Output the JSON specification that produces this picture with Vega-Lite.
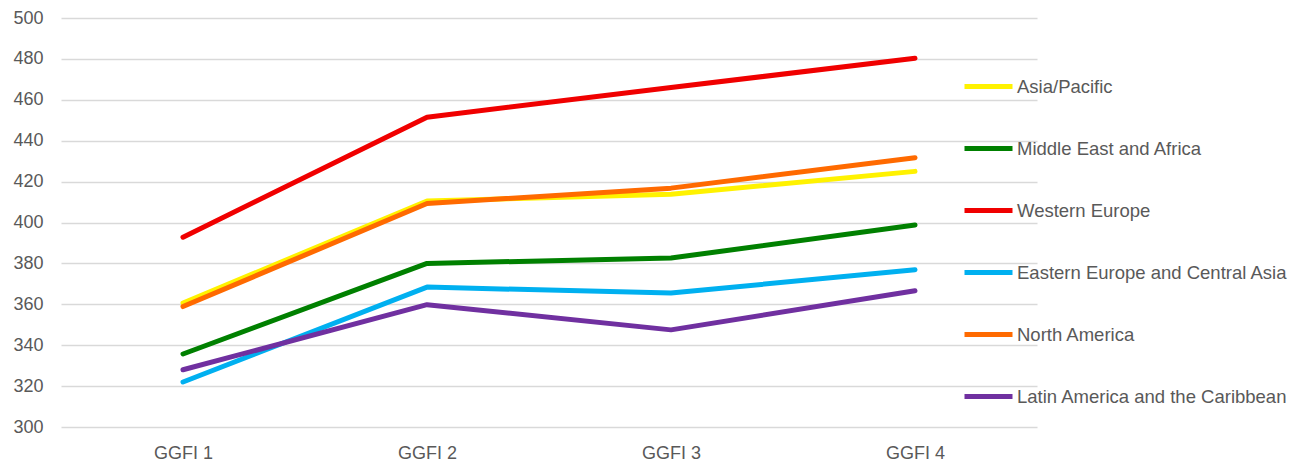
{
  "$schema": "https://vega.github.io/schema/vega-lite/v6.json",
  "width": 976,
  "height": 409,
  "autosize": "none",
  "padding": {"left": 61, "top": 18, "right": 276, "bottom": 38},
  "background": "white",
  "config": {
    "view": {"stroke": null},
    "font": "Liberation Sans"
  },
  "data": {
    "values": [
      {"series": "Asia/Pacific", "index": "GGFI 1", "value": 360.6},
      {"series": "Asia/Pacific", "index": "GGFI 2", "value": 410.5},
      {"series": "Asia/Pacific", "index": "GGFI 3", "value": 413.8},
      {"series": "Asia/Pacific", "index": "GGFI 4", "value": 425.0},
      {"series": "Middle East and Africa", "index": "GGFI 1", "value": 335.7},
      {"series": "Middle East and Africa", "index": "GGFI 2", "value": 380.0},
      {"series": "Middle East and Africa", "index": "GGFI 3", "value": 382.6},
      {"series": "Middle East and Africa", "index": "GGFI 4", "value": 398.8},
      {"series": "Western Europe", "index": "GGFI 1", "value": 392.8},
      {"series": "Western Europe", "index": "GGFI 2", "value": 451.5},
      {"series": "Western Europe", "index": "GGFI 3", "value": 466.0},
      {"series": "Western Europe", "index": "GGFI 4", "value": 480.3},
      {"series": "Eastern Europe and Central Asia", "index": "GGFI 1", "value": 322.0},
      {"series": "Eastern Europe and Central Asia", "index": "GGFI 2", "value": 368.4},
      {"series": "Eastern Europe and Central Asia", "index": "GGFI 3", "value": 365.5},
      {"series": "Eastern Europe and Central Asia", "index": "GGFI 4", "value": 376.9},
      {"series": "North America", "index": "GGFI 1", "value": 358.9},
      {"series": "North America", "index": "GGFI 2", "value": 409.3},
      {"series": "North America", "index": "GGFI 3", "value": 416.8},
      {"series": "North America", "index": "GGFI 4", "value": 431.7},
      {"series": "Latin America and the Caribbean", "index": "GGFI 1", "value": 328.0},
      {"series": "Latin America and the Caribbean", "index": "GGFI 2", "value": 359.8},
      {"series": "Latin America and the Caribbean", "index": "GGFI 3", "value": 347.5},
      {"series": "Latin America and the Caribbean", "index": "GGFI 4", "value": 366.6}
    ]
  },
  "mark": {"type": "line", "strokeWidth": 5, "strokeCap": "round", "strokeJoin": "round"},
  "encoding": {
    "x": {
      "field": "index",
      "type": "nominal",
      "sort": null,
      "scale": {"type": "point", "padding": 0.5},
      "axis": {
        "title": null,
        "labelAngle": 0,
        "domain": false,
        "ticks": false,
        "grid": false,
        "labelFontSize": 18,
        "labelColor": "#595959",
        "labelPadding": 17
      }
    },
    "y": {
      "field": "value",
      "type": "quantitative",
      "scale": {"domain": [300, 500], "nice": false, "zero": false},
      "axis": {
        "title": null,
        "values": [300, 320, 340, 360, 380, 400, 420, 440, 460, 480, 500],
        "domain": false,
        "ticks": false,
        "gridColor": "#d9d9d9",
        "gridWidth": 1.5,
        "labelFontSize": 18,
        "labelColor": "#595959",
        "labelPadding": 18
      }
    },
    "color": {
      "field": "series",
      "type": "nominal",
      "scale": {
        "domain": ["Asia/Pacific", "Middle East and Africa", "Western Europe", "Eastern Europe and Central Asia", "North America", "Latin America and the Caribbean"],
        "range": ["#FFF200", "#008000", "#F00000", "#00B0F0", "#FF6A00", "#7030A0"]
      },
      "legend": {
        "title": null,
        "orient": "none",
        "legendX": 901,
        "legendY": 42,
        "symbolType": "stroke",
        "symbolSize": 2304,
        "symbolStrokeWidth": 5,
        "labelFontSize": 18.5,
        "labelColor": "#595959",
        "labelOffset": 2,
        "labelLimit": 0,
        "rowPadding": 25
      }
    }
  }
}
